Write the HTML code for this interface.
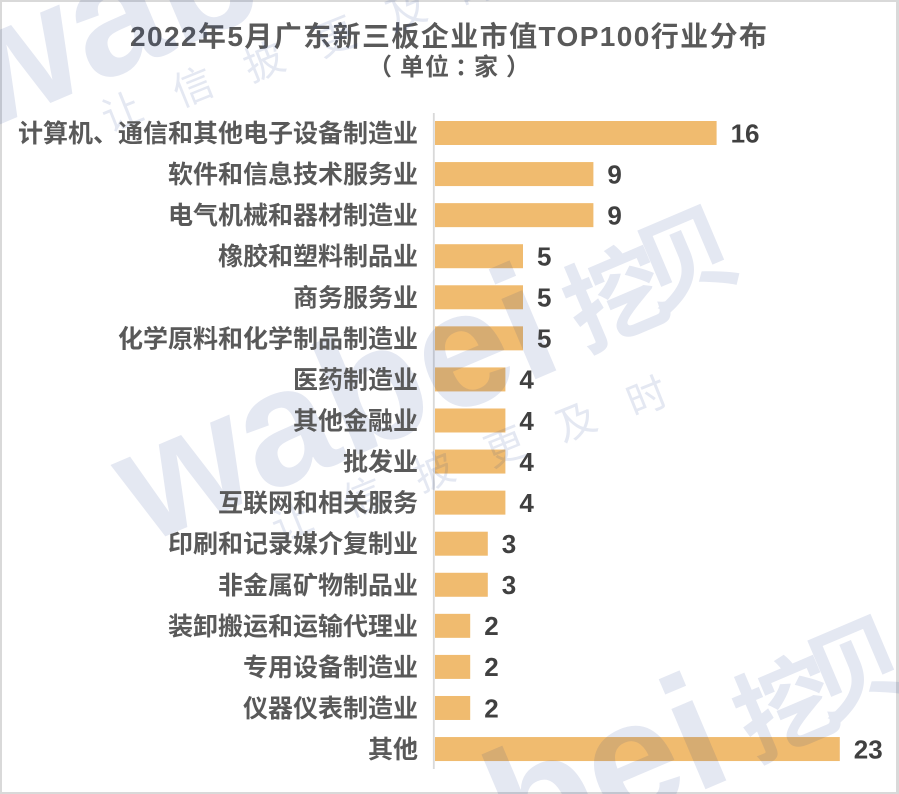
<!DOCTYPE html>
<html>
<head>
<meta charset="utf-8">
<style>
html,body{margin:0;padding:0;background:#fff;width:899px;height:794px;overflow:hidden;}
svg{display:block;overflow:hidden;}
</style>
</head>
<body>
<svg width="899" height="794" viewBox="0 0 899 794" xmlns="http://www.w3.org/2000/svg">
<defs><clipPath id="c"><rect width="899" height="794"/></clipPath></defs>
<g clip-path="url(#c)">
<rect width="899" height="794" fill="#d9d9d9"/>
<rect x="2" y="2" width="894" height="790" fill="#ffffff"/>

<!-- title -->
<g font-family="'Liberation Sans','Noto Sans CJK SC',sans-serif" font-weight="bold" fill="#595959">
<text x="130" y="46" font-size="28" textLength="637" lengthAdjust="spacing">2022年5月广东新三板企业市值TOP100行业分布</text>
<g font-size="24" text-anchor="middle">
<text x="380" y="75">（</text>
<text x="412" y="75">单</text>
<text x="437" y="75">位</text>
<text x="467" y="75">：</text>
<text x="486" y="75">家</text>
<text x="518" y="75">）</text>
</g>
</g>

<!-- axis -->
<line x1="433.8" y1="113" x2="433.8" y2="769" stroke="#d9d9d9" stroke-width="1.8"/>

<!-- bars -->
<g fill="#f0bb6f">
<rect x="435" y="121" width="281.6" height="24"/>
<rect x="435" y="162.07" width="158.4" height="24"/>
<rect x="435" y="203.14" width="158.4" height="24"/>
<rect x="435" y="244.21" width="88" height="24"/>
<rect x="435" y="285.28" width="88" height="24"/>
<rect x="435" y="326.35" width="88" height="24"/>
<rect x="435" y="367.42" width="70.4" height="24"/>
<rect x="435" y="408.49" width="70.4" height="24"/>
<rect x="435" y="449.56" width="70.4" height="24"/>
<rect x="435" y="490.63" width="70.4" height="24"/>
<rect x="435" y="531.7" width="52.8" height="24"/>
<rect x="435" y="572.77" width="52.8" height="24"/>
<rect x="435" y="613.84" width="35.2" height="24"/>
<rect x="435" y="654.91" width="35.2" height="24"/>
<rect x="435" y="695.98" width="35.2" height="24"/>
<rect x="435" y="737.05" width="404.8" height="24"/>
</g>

<!-- watermark -->
<g opacity="0.12" fill="#1f3a93" font-family="'Liberation Sans','Noto Sans CJK SC',sans-serif">
  <g transform="translate(-170,-410)">
    <text transform="translate(145,545) rotate(-23)" font-size="165" font-weight="bold">wabei</text>
    <text transform="translate(616,298) rotate(-23)" y="36" font-size="100" font-weight="bold" text-anchor="middle">挖</text>
    <text transform="translate(686,258) rotate(-23)" y="36" font-size="100" font-weight="bold" text-anchor="middle">贝</text>
    <g font-size="40" text-anchor="middle">
      <text transform="translate(292,522) rotate(-22)" y="14">让</text>
      <text transform="translate(363,497) rotate(-22)" y="14">信</text>
      <text transform="translate(434,472) rotate(-22)" y="14">披</text>
      <text transform="translate(505,447) rotate(-22)" y="14">更</text>
      <text transform="translate(576,422) rotate(-22)" y="14">及</text>
      <text transform="translate(647,397) rotate(-22)" y="14">时</text>
    </g>
  </g>
  <g>
    <text transform="translate(145,545) rotate(-23)" font-size="165" font-weight="bold">wabei</text>
    <text transform="translate(616,298) rotate(-23)" y="36" font-size="100" font-weight="bold" text-anchor="middle">挖</text>
    <text transform="translate(686,258) rotate(-23)" y="36" font-size="100" font-weight="bold" text-anchor="middle">贝</text>
    <g font-size="40" text-anchor="middle">
      <text transform="translate(292,522) rotate(-22)" y="14">让</text>
      <text transform="translate(363,497) rotate(-22)" y="14">信</text>
      <text transform="translate(434,472) rotate(-22)" y="14">披</text>
      <text transform="translate(505,447) rotate(-22)" y="14">更</text>
      <text transform="translate(576,422) rotate(-22)" y="14">及</text>
      <text transform="translate(647,397) rotate(-22)" y="14">时</text>
    </g>
  </g>
  <g transform="translate(170,410)">
    <text transform="translate(145,545) rotate(-23)" font-size="165" font-weight="bold">wabei</text>
    <text transform="translate(616,298) rotate(-23)" y="36" font-size="100" font-weight="bold" text-anchor="middle">挖</text>
    <text transform="translate(686,258) rotate(-23)" y="36" font-size="100" font-weight="bold" text-anchor="middle">贝</text>
  </g>
</g>

<!-- category labels -->
<g font-family="'Liberation Sans','Noto Sans CJK SC',sans-serif" font-weight="bold" font-size="25" fill="#595959" text-anchor="end">
<text x="418" y="142">计算机、通信和其他电子设备制造业</text>
<text x="418" y="183.07">软件和信息技术服务业</text>
<text x="418" y="224.14">电气机械和器材制造业</text>
<text x="418" y="265.21">橡胶和塑料制品业</text>
<text x="418" y="306.28">商务服务业</text>
<text x="418" y="347.35">化学原料和化学制品制造业</text>
<text x="418" y="388.42">医药制造业</text>
<text x="418" y="429.49">其他金融业</text>
<text x="418" y="470.56">批发业</text>
<text x="418" y="511.63">互联网和相关服务</text>
<text x="418" y="552.7">印刷和记录媒介复制业</text>
<text x="418" y="593.77">非金属矿物制品业</text>
<text x="418" y="634.84">装卸搬运和运输代理业</text>
<text x="418" y="675.91">专用设备制造业</text>
<text x="418" y="716.98">仪器仪表制造业</text>
<text x="418" y="758.05">其他</text>
</g>

<!-- value labels -->
<g font-family="'Liberation Sans',sans-serif" font-weight="bold" font-size="26" fill="#404040">
<text x="730.6" y="142.3">16</text>
<text x="607.4" y="183.4">9</text>
<text x="607.4" y="224.4">9</text>
<text x="537" y="265.5">5</text>
<text x="537" y="306.6">5</text>
<text x="537" y="347.6">5</text>
<text x="519.4" y="388.7">4</text>
<text x="519.4" y="429.8">4</text>
<text x="519.4" y="470.9">4</text>
<text x="519.4" y="511.9">4</text>
<text x="501.8" y="553">3</text>
<text x="501.8" y="594.1">3</text>
<text x="484.2" y="635.1">2</text>
<text x="484.2" y="676.2">2</text>
<text x="484.2" y="717.3">2</text>
<text x="853.8" y="758.4">23</text>
</g>
</g>
</svg>
</body>
</html>
